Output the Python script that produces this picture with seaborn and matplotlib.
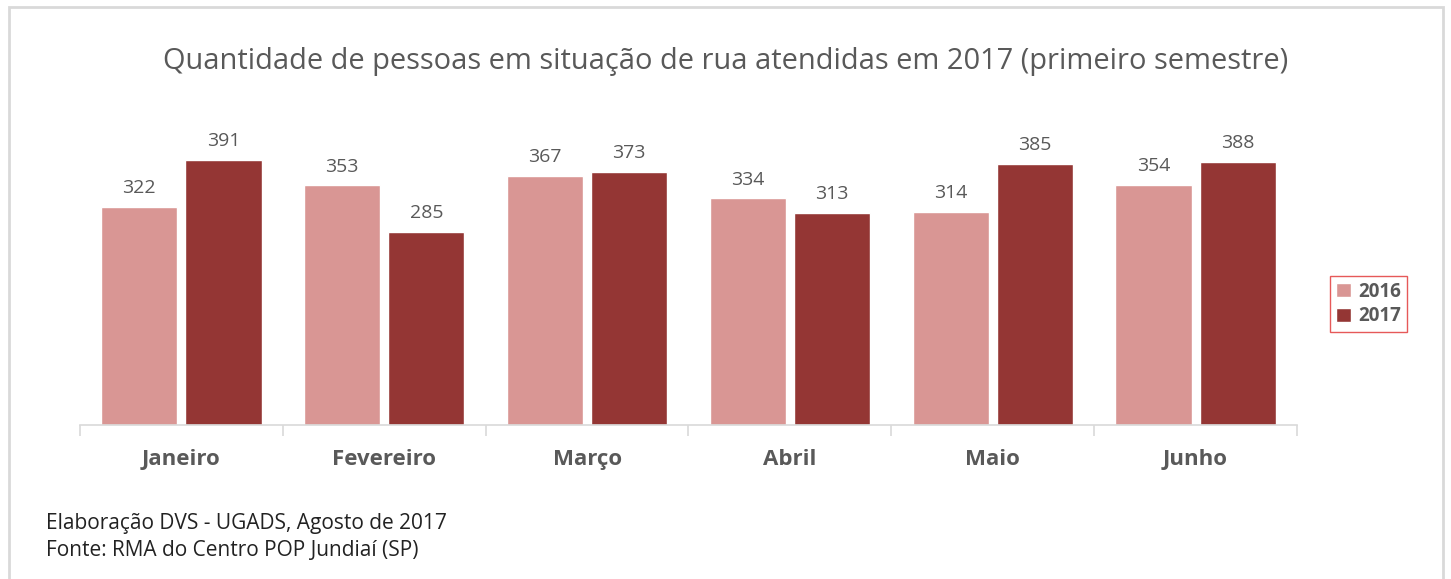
import numpy as np
import pandas as pd
import matplotlib
matplotlib.use("Agg")
import matplotlib.pyplot as plt
import seaborn as sns
from matplotlib.patches import Rectangle

meses = ["Janeiro", "Fevereiro", "Março", "Abril", "Maio", "Junho"]
valores_2016 = [322, 353, 367, 334, 314, 354]
valores_2017 = [391, 285, 373, 313, 385, 388]
anos = ["2016", "2017"]

df = pd.DataFrame({
    "mes": meses * 2,
    "ano": [anos[0]] * len(meses) + [anos[1]] * len(meses),
    "valor": valores_2016 + valores_2017,
})

sns.set_theme(style="white")
plt.rcParams['font.family'] = ['Open Sans', 'DejaVu Sans']

cinza = "#595959"
cores = {"2016": "#D99694", "2017": "#943634"}

fig = plt.figure(figsize=(14.51, 5.79), dpi=100)
ax = fig.add_axes([80 / 1451, 1 - 425 / 579, 1217 / 1451, 325 / 579])

sns.barplot(data=df, x="mes", y="valor", hue="ano", palette=cores,
            width=0.83, gap=0.095, saturation=1, ax=ax, legend=True)

for cont in ax.containers:
    ax.bar_label(cont, fmt="%d", padding=7, fontsize=14, color=cinza)

ax.set_xlim(-0.5, len(meses) - 0.5)
ax.set_ylim(0, 479)
ax.set_xlabel("")
ax.set_ylabel("")
ax.set_yticks([])
for s in ["top", "right", "left"]:
    ax.spines[s].set_visible(False)
ax.spines["bottom"].set_color("#D9D9D9")
ax.spines["bottom"].set_linewidth(1.2)

ax.set_xticks(np.arange(-0.5, len(meses)), minor=True)
ax.tick_params(axis="x", which="minor", length=8, color="#D9D9D9", width=1.2, bottom=True)
ax.tick_params(axis="x", which="major", length=0, pad=17)
for lbl in ax.get_xticklabels():
    lbl.set_fontsize(16)
    lbl.set_fontweight("bold")
    lbl.set_color(cinza)

leg = ax.legend(loc="center left", bbox_to_anchor=(1321 / 1451, 1 - 304 / 579),
                bbox_transform=fig.transFigure, frameon=True, fancybox=False,
                prop={"weight": "bold", "size": 13.5}, handlelength=0.8, handleheight=0.8,
                handletextpad=0.4, labelspacing=0.25, borderpad=0.3, labelcolor=cinza)
leg.get_frame().set_edgecolor("#E03030")
leg.get_frame().set_linewidth(1.0)

fig.text(0.5, 1 - 62 / 579, "Quantidade de pessoas em situação de rua atendidas em 2017 (primeiro semestre)",
         ha="center", va="center", fontsize=20.9, color=cinza)
fig.text(46 / 1451, 1 - 523 / 579, "Elaboração DVS - UGADS, Agosto de 2017",
         ha="left", va="center", fontsize=15, color="#222222")
fig.text(46 / 1451, 1 - 551 / 579, "Fonte: RMA do Centro POP Jundiaí (SP)",
         ha="left", va="center", fontsize=15, color="#222222")

fig.patches.append(Rectangle((9 / 1451, -0.05), 1434 / 1451, 1 - 7 / 579 + 0.05,
                             transform=fig.transFigure, fill=False,
                             edgecolor="#D9D9D9", linewidth=2))

fig.savefig("out.png", dpi=100)
